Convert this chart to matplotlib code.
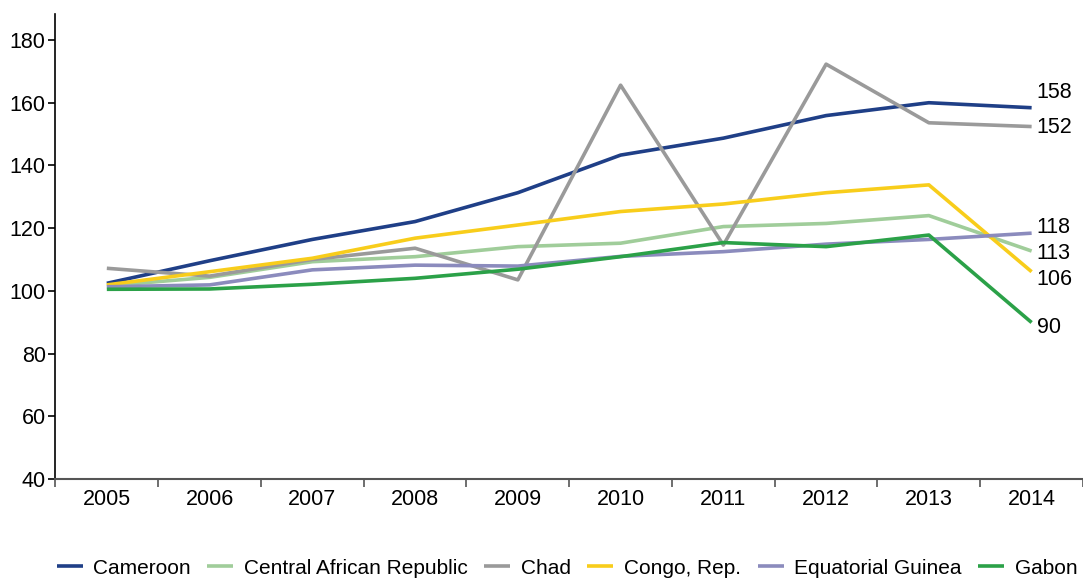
import matplotlib
matplotlib.use('Agg')
import matplotlib.pyplot as plt
import numpy as np

plt.rcParams['font.family'] = ['Liberation Sans', 'DejaVu Sans']

years = ['2005', '2006', '2007', '2008', '2009', '2010', '2011', '2012', '2013', '2014']

cameroon = [102.4, 109.6, 116.4, 122.1, 131.3, 143.3, 148.7, 155.9, 160.0, 158.4]
car = [101.6, 104.3, 109.3, 110.9, 114.1, 115.2, 120.5, 121.5, 124.0, 112.7]
chad = [107.2, 104.7, 110.0, 113.6, 103.5, 165.6, 114.6, 172.3, 153.6, 152.4]
congo = [101.9, 106.1, 110.4, 116.8, 121.0, 125.3, 127.7, 131.3, 133.8, 106.1]
eq_guinea = [101.3, 101.9, 106.7, 108.2, 107.9, 111.0, 112.5, 114.9, 116.4, 118.4]
gabon = [100.5, 100.6, 102.1, 104.0, 106.9, 110.9, 115.4, 114.1, 117.8, 89.9]

series = [
    ('Cameroon', cameroon, '#1f3f87', 15),
    ('Central African Republic', car, '#a0cd9a', -2),
    ('Chad', chad, '#9a9a9a', -1),
    ('Congo, Rep.', congo, '#f8cd1b', -8),
    ('Equatorial Guinea', eq_guinea, '#8b8bbd', 6),
    ('Gabon', gabon, '#2ba148', -5),
]

fig = plt.figure(figsize=(10.83, 5.78), dpi=100)
ax = fig.add_axes([0.0512, 0.1713, 0.9488, 0.8045])

x = np.arange(len(years))
for name, vals, color, dy in series:
    ax.plot(x, vals, color=color, lw=2.6, label=name, solid_capstyle='butt')
    # end-of-line value label
    ax.annotate(f'{round(vals[-1]):d}', (x[-1], vals[-1]), xytext=(5, dy),
                textcoords='offset pixels', ha='left', va='center', fontsize=15.5)

ax.set_xlim(-0.5, 9.5)
ax.set_ylim(40, 188.3)
ax.set_yticks(np.arange(40, 181, 20))
ax.tick_params(axis='y', labelsize=15.5, length=5, width=1.2, pad=2)

# boundary ticks between years, labels centred on the years
ax.set_xticks(np.arange(-0.5, 9.6, 1))
ax.set_xticklabels([])
ax.set_xticks(x, minor=True)
ax.set_xticklabels(years, minor=True)
ax.tick_params(axis='x', which='major', length=6, width=1.2, color='#555555')
ax.tick_params(axis='x', which='minor', length=0, labelsize=15.5, pad=7)

for s in ['top', 'right']:
    ax.spines[s].set_visible(False)
ax.spines['left'].set_linewidth(1.2)
ax.spines['bottom'].set_linewidth(1.5)
ax.spines['bottom'].set_color('#555555')

fig.legend(loc='lower center', bbox_to_anchor=(0.5235, -0.032), ncol=6, frameon=False,
           fontsize=15, handlelength=1.25, handletextpad=0.5, columnspacing=0.8)

fig.savefig('out.png', dpi=100)
